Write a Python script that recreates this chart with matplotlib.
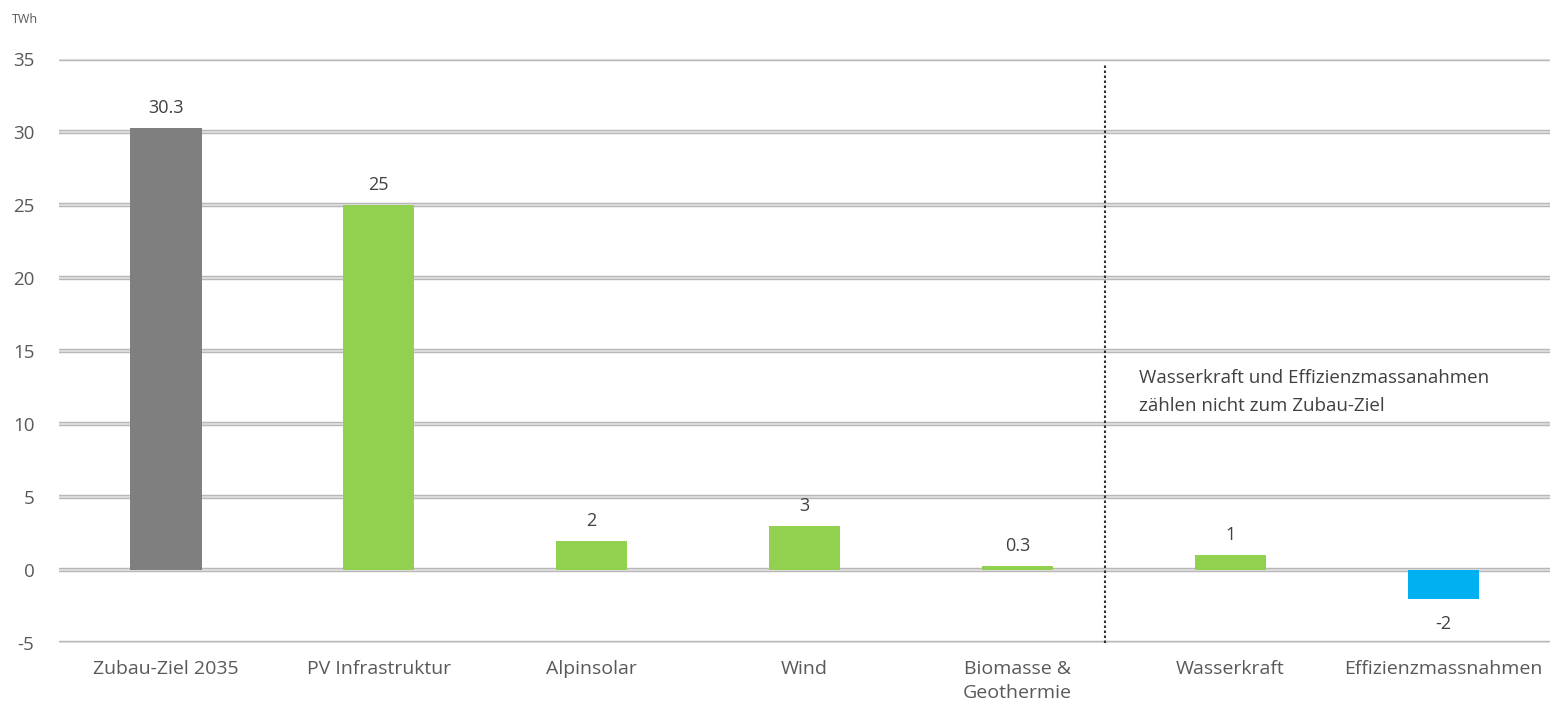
import matplotlib
matplotlib.use("Agg")
import matplotlib.pyplot as plt
import numpy as np

# Zubau bis 2035, TWh
categories = ["Zubau-Ziel 2035", "PV Infrastruktur", "Alpinsolar", "Wind",
              "Biomasse &\nGeothermie", "Wasserkraft", "Effizienzmassnahmen"]
values = [30.3, 25, 2, 3, 0.3, 1, -2]
value_labels = ["30.3", "25", "2", "3", "0.3", "1", "-2"]
bar_colors = ["#7f7f7f", "#92d050", "#92d050", "#92d050", "#92d050", "#92d050", "#00b0f0"]
yticks = [-5, 0, 5, 10, 15, 20, 25, 30, 35]
note = "Wasserkraft und Effizienzmassanahmen\nzählen nicht zum Zubau-Ziel"

plt.rcParams['font.family'] = ['Open Sans', 'DejaVu Sans']
plt.rcParams['axes.unicode_minus'] = False

fig = plt.figure(figsize=(15.5, 7.04), dpi=100)
ax = fig.add_axes([0.0383, 0.0866, 0.9617, 0.8296])

x = np.arange(len(categories))

## gridlines drawn as double lines (darker edge, light core)
for t in yticks:
    ax.axhline(t, color="#b8b8b8", lw=3.2, zorder=1)
    ax.axhline(t, color="#e2e2e2", lw=1.2, zorder=1)

ax.bar(x, values, width=0.335, color=bar_colors, zorder=3)

for xi, v, lab in zip(x, values, value_labels):
    if v >= 0:
        ax.annotate(lab, (xi, v), xytext=(0, 8), textcoords="offset points",
                    ha="center", va="bottom", fontsize=13, color="#404040")
    else:
        ax.annotate(lab, (xi, v), xytext=(0, -11), textcoords="offset points",
                    ha="center", va="top", fontsize=13, color="#404040")

ax.axvline(4.41, ymin=0, ymax=(35 - 0.3 + 5) / 40, color="#303030", lw=1.5,
           linestyle=(0, (1.2, 1.2)), zorder=2)

ax.text(4.57, 12.2, note, ha="left", va="center", fontsize=13.5,
        color="#404040", linespacing=1.75)

ax.set_xlim(-0.5, 6.5)
ax.set_ylim(-5, 35)
ax.set_yticks(yticks)
ax.set_xticks(x)
ax.set_xticklabels(categories, fontsize=14, color="#595959", linespacing=1.45)
ax.tick_params(axis="y", labelsize=13.5, labelcolor="#595959", length=0, pad=18)
ax.tick_params(axis="x", length=0, pad=12)
for s in ax.spines.values():
    s.set_visible(False)

fig.text(0.008, 0.972, "TWh", fontsize=9, color="#595959", ha="left", va="center")

fig.savefig("out.png", dpi=100)
